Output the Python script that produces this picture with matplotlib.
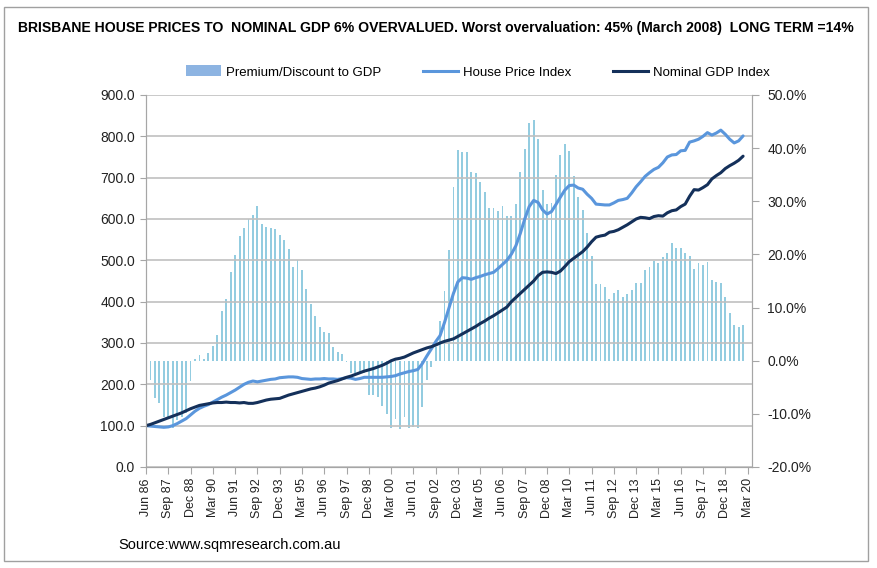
import matplotlib
matplotlib.use("Agg")
import matplotlib.pyplot as plt
from matplotlib.patches import Patch, Rectangle
from matplotlib.lines import Line2D
from matplotlib.ticker import FuncFormatter

plt.rcParams['font.family'] = ['Liberation Sans', 'DejaVu Sans']

# quarterly data, Jun 86 .. Dec 19
house_price = [100, 99, 98, 97, 96, 97, 100, 105, 111, 117,
               126, 135, 142, 147, 151, 157, 163, 169, 174, 180,
               186, 193, 200, 205, 208, 206, 208, 210, 212, 213,
               216, 217, 218, 218, 217, 214, 213, 212, 213, 213,
               214, 213, 213, 212, 214, 216, 215, 212, 214, 217,
               217, 217, 217, 217, 218, 219, 221, 225, 228, 231,
               233, 236, 250, 268, 285, 303, 318, 350, 385, 420,
               448, 458, 457, 454, 458, 461, 465, 468, 471, 480,
               490, 500, 515, 535, 565, 600, 630, 645, 640, 622,
               612, 618, 635, 653, 670, 681, 682, 675, 672, 660,
               650, 636, 635, 634, 634, 639, 645, 647, 650, 663,
               678, 690, 703, 712, 720, 725, 736, 750, 755, 756,
               765, 766, 786, 789, 793, 800, 809, 803, 808, 815,
               805, 793, 784, 789, 801]

nominal_gdp = [100, 103, 107, 111, 115, 119, 123, 127, 131, 136,
               141, 145, 149, 151, 153, 155, 156, 156, 157, 156,
               156, 155, 156, 154, 154, 156, 159, 162, 164, 165,
               166, 170, 174, 177, 180, 183, 186, 189, 191, 194,
               198, 203, 206, 209, 213, 217, 220, 224, 228, 232,
               235, 238, 242, 246, 251, 257, 261, 263, 266, 271,
               276, 280, 284, 288, 291, 295, 300, 304, 307, 310,
               316, 322, 328, 334, 340, 347, 353, 360, 366, 373,
               380, 387, 400, 410, 420, 430, 440, 450, 463, 471,
               472, 471, 468, 474, 485, 497, 505, 513, 521, 532,
               545, 556, 559, 561, 568, 570, 574, 580, 586, 593,
               600, 604, 603, 601, 606, 608, 607, 615, 620, 622,
               630, 636, 655, 671, 670, 676, 683, 697, 705, 712,
               722, 729, 735, 742, 752]

premium = [0.0, -3.6, -7.0, -8.0, -10.5, -10.9, -12.7, -11.2, -10.5, -9.9,
           -3.9, 0.3, 1.0, 0.4, 1.4, 2.8, 4.8, 9.4, 11.6, 16.6,
           19.9, 23.5, 25.0, 26.6, 27.5, 29.2, 25.7, 25.2, 24.9, 24.7,
           23.6, 22.7, 21.1, 17.7, 18.9, 17.0, 13.5, 10.6, 8.5, 6.4,
           5.4, 5.2, 2.6, 1.6, 1.2, -0.2, -2.3, -2.3, -2.3, -2.3,
           -6.5, -6.5, -6.8, -8.6, -10.1, -12.7, -10.9, -12.9, -10.6, -12.7,
           -12.4, -12.7, -8.8, -3.6, -1.1, 2.5, 7.4, 13.1, 20.9, 32.6,
           39.6, 39.3, 39.3, 35.6, 35.3, 33.6, 31.8, 28.7, 28.7, 28.2,
           29.1, 27.2, 27.2, 29.4, 35.6, 39.8, 44.7, 45.3, 41.8, 32.1,
           29.4, 29.7, 35.0, 38.8, 40.8, 39.5, 34.7, 30.9, 28.4, 24.1,
           19.7, 14.4, 14.4, 13.8, 11.7, 12.7, 13.4, 12.0, 12.6, 13.3,
           14.6, 14.6, 17.1, 17.7, 18.8, 18.3, 19.6, 20.2, 22.1, 21.3,
           21.3, 20.2, 19.7, 17.3, 18.4, 18.0, 18.5, 15.2, 14.9, 14.6,
           11.9, 8.9, 6.8, 6.4, 6.7]

tick_labels = ["Jun 86", "Sep 87", "Dec 88", "Mar 90", "Jun 91", "Sep 92", "Dec 93",
               "Mar 95", "Jun 96", "Sep 97", "Dec 98", "Mar 00", "Jun 01", "Sep 02",
               "Dec 03", "Mar 05", "Jun 06", "Sep 07", "Dec 08", "Mar 10", "Jun 11",
               "Sep 12", "Dec 13", "Mar 15", "Jun 16", "Sep 17", "Dec 18", "Mar 20"]

BAR = "#93CCE0"
HPI = "#5A96DC"
GDP = "#14305A"
GRID = "#C0C0C0"
TXT = "#222222"

fig = plt.figure(figsize=(8.78, 5.68), dpi=100)
ax = fig.add_axes([146 / 878, 1 - 467 / 568, (752 - 146) / 878, (467 - 95) / 568])
ax2 = ax.twinx()
ax.set_zorder(2)
ax2.set_zorder(1)
ax.patch.set_visible(False)

x = list(range(len(premium)))
ax2.bar(x, premium, width=0.42, color=BAR, linewidth=0)
ax2.set_ylim(-20, 50)
ax2.set_yticks(range(-20, 51, 10))
ax2.yaxis.set_major_formatter(FuncFormatter(lambda v, p: f"{v:.1f}%"))

ax.plot(x, house_price, color=HPI, lw=2.2, solid_capstyle='round')
ax.plot(x, nominal_gdp, color=GDP, lw=2.2, solid_capstyle='round')
ax.set_ylim(0, 900)
ax.set_yticks(range(0, 901, 100))
ax.yaxis.set_major_formatter(FuncFormatter(lambda v, p: f"{v:.1f}"))
ax.set_xlim(0, 136)
ax.set_xticks(range(0, 136, 5))
ax.set_xticklabels(tick_labels, rotation=90, fontsize=9, color=TXT)
ax.grid(axis='y', color=GRID, lw=1.2)
ax.set_axisbelow(True)

for a in (ax, ax2):
    for s in a.spines.values():
        s.set_color("#A6A6A6")
    a.spines['top'].set_visible(False)
ax.tick_params(axis='y', labelsize=10, colors="#A6A6A6", labelcolor=TXT, length=4, pad=4)
ax.tick_params(axis='x', colors="#A6A6A6", labelcolor=TXT, length=5, pad=3)
ax2.tick_params(axis='y', labelsize=10, colors="#A6A6A6", labelcolor=TXT, length=5, pad=6)

fig.text(436 / 878, 1 - 28 / 568,
         "BRISBANE HOUSE PRICES TO  NOMINAL GDP 6% OVERVALUED. Worst overvaluation: 45% (March 2008)  LONG TERM =14%",
         ha='center', va='center', fontsize=10.1, fontweight='bold', color="black")

handles = [Patch(facecolor="#8DB4E2", edgecolor="none"),
           Line2D([], [], color=HPI, lw=2.2),
           Line2D([], [], color=GDP, lw=2.2)]
fig.legend(handles, ["Premium/Discount to GDP", "House Price Index", "Nominal GDP Index"],
           loc='center', bbox_to_anchor=(478 / 878, 1 - 72 / 568), ncol=3, frameon=False,
           fontsize=9.5, handlelength=2.6, handleheight=0.9, handletextpad=0.4, columnspacing=3.2)

fig.text(118 / 878, 1 - 545 / 568, "Source:www.sqmresearch.com.au", ha='left', va='center',
         fontsize=10.5, color="black")

fig.patches.append(Rectangle((4 / 878, 1 - 561 / 568), 864 / 878, 554 / 568,
                             transform=fig.transFigure, fill=False, edgecolor="#A0A0A0", lw=1))

fig.savefig("out.png", dpi=100)
